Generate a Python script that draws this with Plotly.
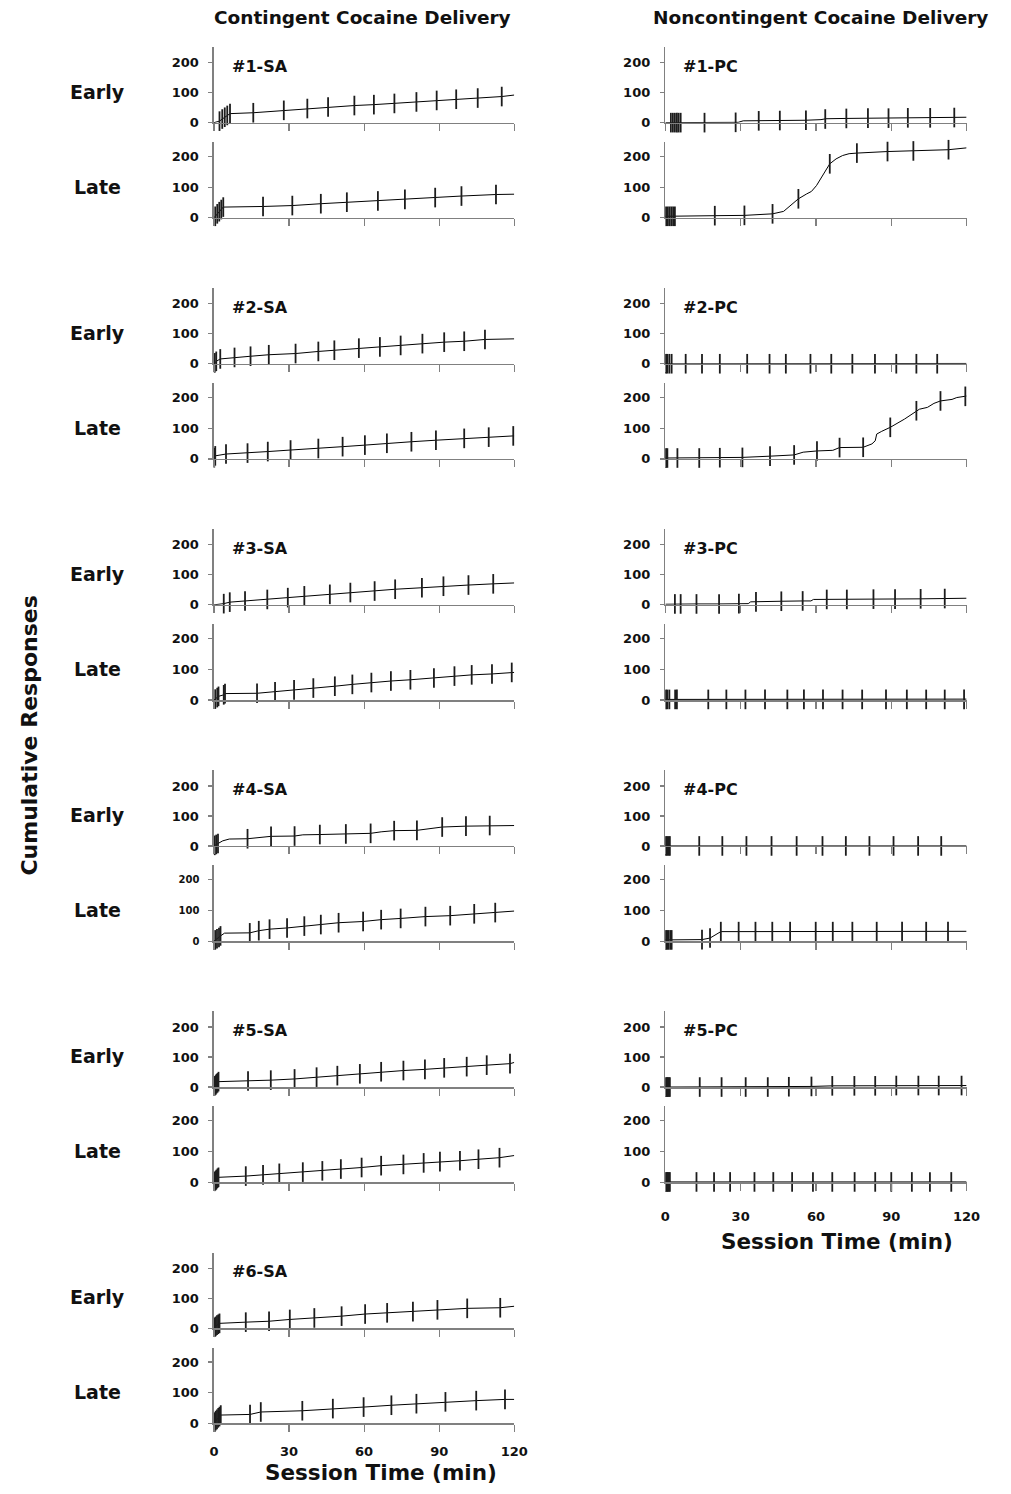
import plotly.graph_objects as go

W, H = 1011, 1494
FONT = "DejaVu Sans"

# ---------------- data (times in min, cumulative responses) ----------------
# Contingent (SA) subjects
sa1_early_inf_t = [2.2, 3.3, 4.3, 5.3, 6.4, 15.7, 27.9, 37.3, 45.6, 56.1, 63.9, 72.1, 80.9, 89.0, 96.8, 105.4, 115.0]
sa1_early_inf_y = [5, 12, 18, 24, 30, 33, 41, 47, 52, 57, 60, 64, 69, 74, 78, 82, 87]
sa1_early_line_t = [0, 120]
sa1_early_line_y = [0, 92]
sa1_late_inf_t = [0.5, 1.3, 2.1, 2.9, 3.7, 19.6, 31.3, 42.7, 53.1, 65.5, 76.3, 88.4, 98.9, 112.7]
sa1_late_inf_y = [5, 13, 20, 27, 35, 37, 40, 46, 51, 55, 60, 66, 71, 76]
sa1_late_line_t = [0, 120]
sa1_late_line_y = [0, 77]

sa2_early_inf_t = [0.3, 0.9, 2.5, 8.2, 14.6, 21.9, 32.6, 41.7, 48.1, 57.9, 66.3, 74.6, 83.3, 92.0, 100.0, 108.3]
sa2_early_inf_y = [3, 8, 16, 21, 25, 30, 34, 41, 45, 52, 56, 61, 67, 72, 75, 81]
sa2_early_line_t = [0, 120]
sa2_early_line_y = [0, 83]
sa2_late_inf_t = [0.1, 0.5, 4.8, 13.4, 21.5, 30.6, 41.7, 51.4, 60.3, 69.1, 78.9, 88.7, 100.0, 109.8, 119.6]
sa2_late_inf_y = [4, 10, 16, 19, 24, 29, 34, 40, 45, 51, 56, 61, 67, 71, 75]
sa2_late_line_t = [0, 120]
sa2_late_line_y = [0, 75]

sa3_early_inf_t = [3.9, 6.3, 12.4, 21.3, 29.5, 36.1, 46.3, 54.5, 64.2, 72.4, 83.1, 91.7, 101.7, 111.6]
sa3_early_inf_y = [4, 9, 13, 18, 24, 30, 35, 41, 46, 52, 57, 62, 66, 70]
sa3_early_line_t = [0, 120]
sa3_early_line_y = [0, 73]
sa3_late_inf_t = [0.5, 1.3, 1.8, 3.9, 4.4, 17.2, 24.4, 32.0, 39.7, 48.3, 55.3, 62.9, 70.7, 78.5, 87.9, 96.1, 103.0, 111.1, 119.0]
sa3_late_inf_y = [3, 8, 12, 17, 21, 22, 27, 33, 39, 45, 51, 57, 62, 66, 72, 78, 82, 85, 90]
sa3_late_line_t = [0, 120]
sa3_late_line_y = [0, 90]

sa4_early_inf_t = [0.3, 0.9, 1.6, 13.4, 22.8, 32.2, 42.3, 52.7, 62.6, 72.0, 81.1, 91.2, 100.7, 110.2]
sa4_early_inf_y = [2, 5, 8, 24, 32, 33, 38, 40, 42, 51, 52, 63, 66, 68]
sa4_early_line_t = [0, 3.5, 6.1, 18.5, 35.5, 66.8, 86.3, 120]
sa4_early_line_y = [0, 17, 23, 28, 37, 47, 58, 68]
sa4_late_inf_t = [0.5, 1.2, 2.0, 2.6, 14.3, 17.9, 22.2, 29.2, 36.1, 42.7, 49.8, 59.6, 66.8, 74.6, 84.5, 94.4, 104.0, 112.4]
sa4_late_inf_y = [4, 8, 12, 17, 27, 34, 39, 43, 49, 54, 60, 64, 70, 74, 80, 83, 89, 93]
sa4_late_line_t = [0, 4.2, 120]
sa4_late_line_y = [0, 26, 98]

sa5_early_inf_t = [0.3, 0.7, 1.0, 1.4, 1.8, 13.6, 22.7, 32.2, 41.0, 49.3, 58.3, 66.8, 75.7, 84.3, 92.0, 101.0, 109.0, 118.3]
sa5_early_inf_y = [4, 7, 11, 14, 18, 20, 23, 27, 33, 38, 44, 51, 55, 59, 64, 68, 73, 78]
sa5_early_line_t = [0, 120]
sa5_early_line_y = [0, 82]
sa5_late_inf_t = [0.3, 0.7, 1.0, 1.4, 1.8, 12.7, 19.6, 26.1, 35.5, 43.3, 50.7, 59.0, 66.8, 75.7, 83.8, 90.3, 98.3, 105.7, 114.1]
sa5_late_inf_y = [3, 6, 9, 13, 16, 20, 24, 29, 33, 37, 43, 48, 54, 58, 63, 67, 70, 75, 80]
sa5_late_line_t = [0, 120]
sa5_late_line_y = [0, 87]

sa6_early_inf_t = [0.3, 0.7, 1.2, 1.7, 2.2, 12.7, 22.0, 30.3, 40.1, 51.0, 60.4, 69.2, 79.5, 89.3, 101.2, 114.4]
sa6_early_inf_y = [3, 6, 10, 13, 16, 20, 23, 29, 34, 40, 47, 51, 55, 61, 66, 68]
sa6_early_line_t = [0, 120]
sa6_early_line_y = [0, 73]
sa6_late_inf_t = [0.3, 0.7, 1.2, 1.7, 2.2, 2.7, 14.4, 18.7, 35.3, 47.5, 59.8, 70.9, 80.9, 92.5, 104.8, 116.3]
sa6_late_inf_y = [4, 9, 13, 18, 22, 27, 29, 37, 41, 48, 53, 59, 64, 70, 74, 78]
sa6_late_line_t = [0, 120]
sa6_late_line_y = [0, 78]

# Noncontingent (PC) subjects
pc1_early_inf_t = [2.2, 3.0, 3.8, 4.6, 5.3, 6.1, 15.6, 28.0, 37.2, 45.6, 56.0, 63.7, 72.1, 80.7, 88.9, 96.6, 105.5, 115.1]
pc1_early_inf_y = [0, 0, 0, 0, 0, 0, 0, 1, 6, 7, 8, 12, 14, 15, 15, 16, 16, 17]
pc1_early_line_t = [0, 29, 31, 62, 64, 120]
pc1_early_line_y = [0, 1, 6, 10, 13, 18]
pc1_late_inf_t = [0.3, 1.0, 1.7, 2.4, 3.1, 3.8, 19.7, 31.5, 42.7, 53.0, 65.5, 76.3, 88.5, 98.8, 112.8]
pc1_late_inf_y = [5, 5, 5, 5, 5, 5, 7, 8, 13, 62, 176, 211, 216, 218, 222]
pc1_late_line_t = [0, 47.1, 49.7, 56.3, 58.2, 60.2, 62.8, 68.0, 70.6, 73.2, 120]
pc1_late_line_y = [5, 21, 40, 78, 86, 105, 138, 192, 203, 209, 228]

pc2_early_inf_t = [0.3, 0.8, 1.6, 2.5, 8.1, 14.6, 21.7, 32.6, 41.5, 48.0, 57.8, 66.1, 74.5, 83.5, 92.0, 100.0, 108.3]
pc2_early_inf_y = [0, 0, 0, 0, 0, 0, 0, 0, 0, 0, 0, 0, 0, 0, 0, 0, 0]
pc2_early_line_t = [0, 120]
pc2_early_line_y = [0, 1]
pc2_late_inf_t = [0.3, 0.8, 4.8, 13.5, 21.7, 30.7, 41.7, 51.3, 60.4, 69.4, 78.8, 89.6, 100.0, 109.6, 119.5]
pc2_late_inf_y = [3, 3, 3, 3, 4, 5, 9, 13, 26, 37, 38, 103, 157, 189, 204]
pc2_late_line_t = [0, 30.2, 54.9, 66.7, 68.6, 82.3, 83.6, 84.2, 86.2, 95.3, 101.2, 104.4, 107.0, 112.2, 114.2, 116.1, 120]
pc2_late_line_y = [3, 5, 22, 28, 36, 49, 59, 81, 90, 130, 162, 168, 181, 191, 194, 200, 205]

pc3_early_inf_t = [3.8, 6.1, 12.4, 21.4, 29.3, 36.1, 46.2, 54.7, 64.3, 72.3, 82.9, 91.5, 101.7, 111.3]
pc3_early_inf_y = [3, 3, 3, 3, 4, 10, 12, 13, 18, 18, 19, 19, 20, 21]
pc3_early_line_t = [0, 33, 34, 58, 59, 120]
pc3_early_line_y = [2, 4, 10, 13, 18, 22]
pc3_late_inf_t = [0.3, 0.8, 1.6, 3.9, 4.6, 17.1, 24.3, 31.9, 39.7, 48.6, 55.2, 62.8, 70.6, 78.4, 87.9, 96.2, 103.9, 111.3, 119.0]
pc3_late_inf_y = [2, 2, 2, 2, 2, 2, 2, 2, 2, 2, 2, 2, 2, 2, 2, 2, 2, 2, 2]
pc3_late_line_t = [0, 120]
pc3_late_line_y = [2, 3]

pc4_early_inf_t = [0.3, 0.8, 1.3, 1.8, 13.5, 22.7, 32.3, 42.3, 52.3, 62.6, 71.9, 81.3, 90.9, 100.7, 109.9]
pc4_early_inf_y = [0, 0, 0, 0, 0, 0, 0, 0, 0, 0, 0, 0, 0, 0, 0]
pc4_early_line_t = [0, 120]
pc4_early_line_y = [0, 0]
pc4_late_inf_t = [0.3, 0.8, 1.3, 2.0, 2.5, 14.6, 17.8, 22.1, 29.2, 35.9, 42.6, 49.7, 59.9, 66.7, 74.5, 84.2, 94.3, 103.9, 112.6]
pc4_late_inf_y = [4, 4, 4, 4, 4, 5, 10, 31, 31, 31, 31, 31, 31, 31, 31, 31, 31, 31, 31]
pc4_late_line_t = [0, 120]
pc4_late_line_y = [4, 32]

pc5_early_inf_t = [0.3, 0.7, 1.0, 1.4, 1.8, 13.7, 22.4, 32.0, 40.8, 49.2, 58.2, 66.5, 75.3, 83.6, 92.0, 100.8, 108.9, 118.0]
pc5_early_inf_y = [0, 0, 0, 0, 0, 0, 0, 0, 0, 1, 2, 4, 4, 4, 5, 5, 5, 5]
pc5_early_line_t = [0, 120]
pc5_early_line_y = [0, 5]
pc5_late_inf_t = [0.3, 0.7, 1.0, 1.4, 1.8, 12.4, 19.4, 25.8, 35.5, 43.0, 50.5, 58.8, 66.5, 75.4, 83.6, 90.0, 98.2, 105.4, 113.9]
pc5_late_inf_y = [1, 1, 1, 1, 1, 1, 1, 1, 1, 1, 1, 1, 1, 1, 1, 1, 1, 1, 1]
pc5_late_line_t = [0, 120]
pc5_late_line_y = [0, 1]

x_tick_vals = [0, 30, 60, 90, 120]
x_tick_text = ["0", "30", "60", "90", "120"]
y_tick_vals = [0, 100, 200]
y_tick_text = ["0", "100", "200"]

col_titles = ["Contingent Cocaine Delivery", "Noncontingent Cocaine Delivery"]
row_names = ["Early", "Late"]
x_title = "Session Time (min)"
y_title = "Cumulative Responses"

# (column, pair index, label, early data, late data)
panels = [
    (0, 0, "#1-SA", (sa1_early_inf_t, sa1_early_inf_y, sa1_early_line_t, sa1_early_line_y),
     (sa1_late_inf_t, sa1_late_inf_y, sa1_late_line_t, sa1_late_line_y)),
    (0, 1, "#2-SA", (sa2_early_inf_t, sa2_early_inf_y, sa2_early_line_t, sa2_early_line_y),
     (sa2_late_inf_t, sa2_late_inf_y, sa2_late_line_t, sa2_late_line_y)),
    (0, 2, "#3-SA", (sa3_early_inf_t, sa3_early_inf_y, sa3_early_line_t, sa3_early_line_y),
     (sa3_late_inf_t, sa3_late_inf_y, sa3_late_line_t, sa3_late_line_y)),
    (0, 3, "#4-SA", (sa4_early_inf_t, sa4_early_inf_y, sa4_early_line_t, sa4_early_line_y),
     (sa4_late_inf_t, sa4_late_inf_y, sa4_late_line_t, sa4_late_line_y)),
    (0, 4, "#5-SA", (sa5_early_inf_t, sa5_early_inf_y, sa5_early_line_t, sa5_early_line_y),
     (sa5_late_inf_t, sa5_late_inf_y, sa5_late_line_t, sa5_late_line_y)),
    (0, 5, "#6-SA", (sa6_early_inf_t, sa6_early_inf_y, sa6_early_line_t, sa6_early_line_y),
     (sa6_late_inf_t, sa6_late_inf_y, sa6_late_line_t, sa6_late_line_y)),
    (1, 0, "#1-PC", (pc1_early_inf_t, pc1_early_inf_y, pc1_early_line_t, pc1_early_line_y),
     (pc1_late_inf_t, pc1_late_inf_y, pc1_late_line_t, pc1_late_line_y)),
    (1, 1, "#2-PC", (pc2_early_inf_t, pc2_early_inf_y, pc2_early_line_t, pc2_early_line_y),
     (pc2_late_inf_t, pc2_late_inf_y, pc2_late_line_t, pc2_late_line_y)),
    (1, 2, "#3-PC", (pc3_early_inf_t, pc3_early_inf_y, pc3_early_line_t, pc3_early_line_y),
     (pc3_late_inf_t, pc3_late_inf_y, pc3_late_line_t, pc3_late_line_y)),
    (1, 3, "#4-PC", (pc4_early_inf_t, pc4_early_inf_y, pc4_early_line_t, pc4_early_line_y),
     (pc4_late_inf_t, pc4_late_inf_y, pc4_late_line_t, pc4_late_line_y)),
    (1, 4, "#5-PC", (pc5_early_inf_t, pc5_early_inf_y, pc5_early_line_t, pc5_early_line_y),
     (pc5_late_inf_t, pc5_late_inf_y, pc5_late_line_t, pc5_late_line_y)),
]

# ---------------- layout geometry (pixels of the 1011x1494 page) ----------------
COL_X = [(213, 519), (673, 980)]
PAIR_TOP0 = 47.3
PAIR_STEP = 242.4
EARLY_H = 76.0
LATE_OFF = 95.5
LATE_H = 76.2
LAST_PAIR = {0: 5, 1: 4}
XLABEL_STANDOFF = {0: 9, 1: 15}

AXIS_GREY = "#808080"
MARK_COL = "#1c1c1c"


def fx(px):
    return px / W


def fy(py):
    return 1 - py / H


fig = go.Figure()
layout = {}
annotations = []
ax_i = 0


def merged_curve(inf_t, inf_y, line_t, line_y):
    pts = sorted(list(zip(inf_t, inf_y)) + list(zip(line_t, line_y)), key=lambda p: p[0])
    return [p[0] for p in pts], [p[1] for p in pts]


for col, k, label, early, late in panels:
    top = PAIR_TOP0 + PAIR_STEP * k
    x0, x1 = COL_X[col]
    for j, (data, ptop, ph, yr) in enumerate([
        (early, top, EARLY_H, 252),
        (late, top + LATE_OFF, LATE_H, 247),
    ]):
        ax_i += 1
        xa = "x" if ax_i == 1 else f"x{ax_i}"
        ya = "y" if ax_i == 1 else f"y{ax_i}"
        inf_t, inf_y, line_t, line_y = data
        ct, cy = merged_curve(inf_t, inf_y, line_t, line_y)
        fig.add_trace(go.Scatter(
            x=ct, y=cy, mode="lines", xaxis=xa, yaxis=ya,
            line=dict(color="black", width=1), hoverinfo="skip", showlegend=False))
        fig.add_trace(go.Scatter(
            x=inf_t, y=inf_y, mode="markers", xaxis=xa, yaxis=ya, cliponaxis=False,
            marker=dict(symbol="line-ns", size=14, color=MARK_COL,
                        line=dict(width=1.8, color=MARK_COL)),
            hoverinfo="skip", showlegend=False))
        bottom_panel = (j == 1 and k == LAST_PAIR[col])
        small = (col == 0 and k == 3 and j == 1)
        xname = "xaxis" if ax_i == 1 else f"xaxis{ax_i}"
        yname = "yaxis" if ax_i == 1 else f"yaxis{ax_i}"
        layout[xname] = dict(
            domain=[fx(x0), fx(x1)], range=[0, 120], anchor=ya,
            showline=True, linecolor=AXIS_GREY, linewidth=1.5,
            ticks="outside", ticklen=7, tickwidth=1.2, tickcolor=AXIS_GREY,
            tickvals=x_tick_vals, ticktext=x_tick_text,
            showticklabels=bottom_panel, ticklabelstandoff=XLABEL_STANDOFF[col],
            tickfont=dict(family=FONT, size=13, color="#111", weight="bold"),
            showgrid=False, zeroline=False, fixedrange=True)
        layout[yname] = dict(
            domain=[fy(ptop + ph), fy(ptop)], range=[0, yr], anchor=xa,
            showline=True, linecolor=AXIS_GREY, linewidth=1.5,
            ticks="outside", ticklen=4, tickwidth=1.2, tickcolor=AXIS_GREY,
            tickvals=y_tick_vals, ticktext=y_tick_text, ticklabelstandoff=7,
            tickfont=dict(family=FONT, size=10 if small else 13, color="#111", weight="bold"),
            showgrid=False, zeroline=False, fixedrange=True)
        if col == 0:
            annotations.append(dict(
                text=row_names[j], x=fx(94), y=fy(ptop + ph / 2 + 7),
                xref="paper", yref="paper", xanchor="center", yanchor="middle",
                showarrow=False, font=dict(family=FONT, size=19, color="#111", weight="bold")))
    annotations.append(dict(
        text=label, x=fx(x0 + 16), y=fy(top + 19.5), xref="paper", yref="paper",
        xanchor="left", yanchor="middle", showarrow=False,
        font=dict(family=FONT, size=16, color="#111", weight="bold")))

# column titles
for txt, cx in zip(col_titles, [364, 831]):
    annotations.append(dict(
        text=txt, x=fx(cx), y=fy(18), xref="paper", yref="paper",
        xanchor="center", yanchor="middle", showarrow=False,
        font=dict(family=FONT, size=18.5, color="#111", weight="bold")))

# x titles
for cx, cy in [(383, 1480), (848, 1248)]:
    annotations.append(dict(
        text=x_title, x=fx(cx), y=fy(cy), xref="paper", yref="paper",
        xanchor="center", yanchor="middle", showarrow=False,
        font=dict(family=FONT, size=21.5, color="#111", weight="bold")))

# y title
annotations.append(dict(
    text=y_title, x=fx(25), y=fy(740), xref="paper", yref="paper",
    xanchor="center", yanchor="middle", textangle=-90, showarrow=False,
    font=dict(family=FONT, size=22, color="#111", weight="bold")))

fig.update_layout(
    width=W, height=H, margin=dict(l=0, r=0, t=0, b=0, pad=0),
    paper_bgcolor="white", plot_bgcolor="white",
    annotations=annotations, showlegend=False, **layout)

page_js = (
    "document.documentElement.style.margin='0px';"
    "document.documentElement.style.overflow='hidden';"
    "document.body.style.margin='0px';"
    "document.body.style.padding='0px';"
    "document.body.style.overflow='hidden';"
)
fig.write_html("out.html", config={"displayModeBar": False, "staticPlot": True},
               post_script=page_js)
